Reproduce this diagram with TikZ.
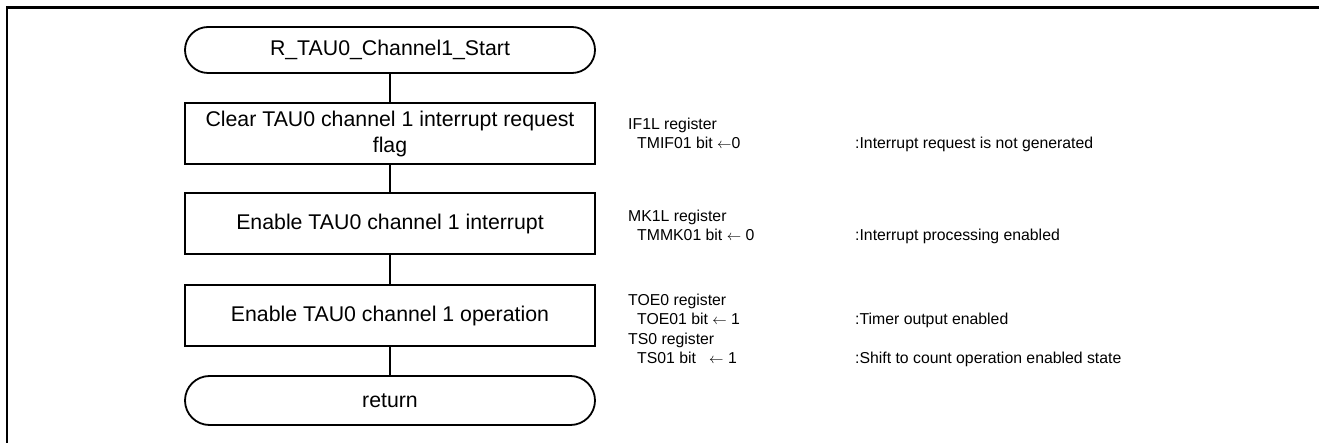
\documentclass[tikz,border=0pt]{standalone}
\usepackage{fontspec}
\setmainfont{Liberation Sans}
\usetikzlibrary{shapes.misc}
\newcommand{\larr}{\ensuremath{\leftarrow}}
\tikzset{
  flow/.style={draw, line width=1.8pt, minimum width=410pt, minimum height=61pt, inner sep=0pt, align=center, font=\fontsize{21.3}{26}\selectfont},
  term/.style={flow, rounded rectangle, minimum height=46pt},
  stepbox/.style={flow, rectangle},
  link/.style={line width=1.8pt},
  side/.style={anchor=base west, inner sep=0pt, font=\fontsize{15.8}{19}\selectfont},
  frame/.style={line width=2.5pt}
}
\begin{document}
\begin{tikzpicture}[x=1pt,y=-1pt]
\useasboundingbox (0,0) rectangle (1319,443);
\draw[frame] (1319,7.5) -- (7,7.5) -- (7,443);
% flowchart
\node[term] (start) at (390,50) {R\_TAU0\_Channel1\_Start};
\node[stepbox] (b1) at (390,133.5) {Clear TAU0 channel 1 interrupt request\\flag};
\node[stepbox] (b2) at (390,223.5) {Enable TAU0 channel 1 interrupt};
\node[stepbox] (b3) at (390,315.5) {Enable TAU0 channel 1 operation};
\node[term, minimum height=49pt] (ret) at (390,400.5) {return};
\draw[link] (start) -- (b1);
\draw[link] (b1) -- (b2);
\draw[link] (b2) -- (b3);
\draw[link] (b3) -- (ret);
% side notes
\node[side] (r1) at (628,129.7) {IF1L register};
\node[side] (r1b) at (637,148.7) {TMIF01 bit \larr0};
\node[side] (c1) at (855,148.7) {:Interrupt request is not generated};
\node[side] (r2) at (628,221.7) {MK1L register};
\node[side] (r2b) at (637,240.7) {TMMK01 bit \larr\ 0};
\node[side] (c2) at (855,240.7) {:Interrupt processing enabled};
\node[side] (r3) at (628,305.7) {TOE0 register};
\node[side] (r3b) at (637,324.7) {TOE01 bit \larr\ 1};
\node[side] (c3) at (855,324.7) {:Timer output enabled};
\node[side] (r4) at (628,344.7) {TS0 register};
\node[side] (r4b) at (637,363.7) {TS01 bit \ \ \larr\ 1};
\node[side] (c4) at (855,363.7) {:Shift to count operation enabled state};
\end{tikzpicture}
\end{document}
